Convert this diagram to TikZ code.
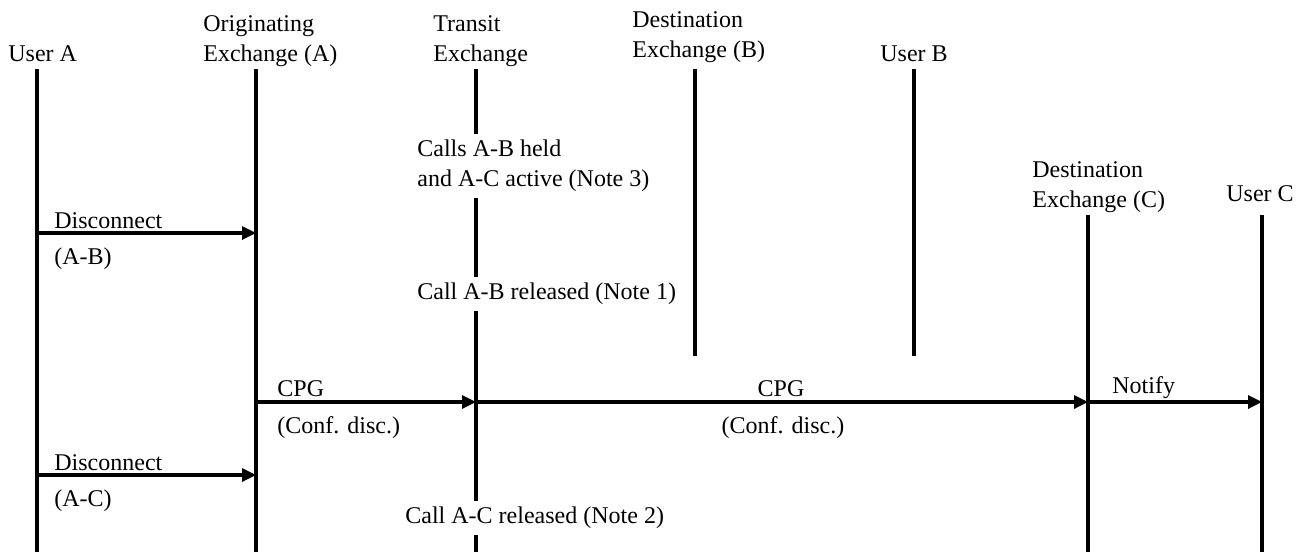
\documentclass[tikz,border=0pt]{standalone}
\usepackage{fontspec}
\setmainfont{Liberation Serif}
\usetikzlibrary{arrows.meta}
\def\life{\draw[line width=1.6pt]}
\def\msg{\draw[line width=1.6pt,-{Triangle[length=7pt,width=6.5pt]}]}

\begin{document}
\begin{tikzpicture}[x=0.5pt,y=-0.5pt,
    every node/.style={font=\fontsize{12}{15}\selectfont,inner sep=0pt},
    lbl/.style={anchor=base west,align=left},
    note/.style={anchor=west,align=left,inner ysep=3pt}]
    \useasboundingbox (0,0) rectangle (1305,552);
    % entities (base = last line)
    \node[lbl] (hua) at (8,61) {User A};
    \node[lbl] (hoa) at (203,61) {Originating\\Exchange (A)};
    \node[lbl] (htr) at (433,61) {Transit\\Exchange};
    \node[lbl] (hdb) at (632,57) {Destination\\Exchange (B)};
    \node[lbl] (hub) at (880,61) {User B};
    \node[lbl] (hdc) at (1032,207) {Destination\\Exchange (C)};
    \node[lbl] (huc) at (1226,201) {User C};
    % lifelines
    \coordinate (ua-t) at (37,69);    \coordinate (ua-b) at (37,552);
    \coordinate (oa-t) at (256,69);   \coordinate (oa-b) at (256,552);
    \coordinate (tr-t) at (476,69);   \coordinate (tr-b) at (476,552);
    \coordinate (db-t) at (695,69);   \coordinate (db-b) at (695,356);
    \coordinate (ub-t) at (914,69);   \coordinate (ub-b) at (914,356);
    \coordinate (dc-t) at (1088,215); \coordinate (dc-b) at (1088,552);
    \coordinate (uc-t) at (1262,215); \coordinate (uc-b) at (1262,552);
    \life (ua-t) -- (ua-b);
    \life (oa-t) -- (oa-b);
    \life (db-t) -- (db-b);
    \life (ub-t) -- (ub-b);
    \life (dc-t) -- (dc-b);
    \life (uc-t) -- (uc-b);
    % notes on the transit exchange
    \node[note] (n3) at (417,166) {Calls A-B held\\and A-C active (Note 3)};
    \node[note] (n1) at (417,294) {Call A-B released (Note 1)};
    \node[note] (n2) at (405,518) {Call A-C released (Note 2)};
    \life (tr-t) -- (n3.north -| tr-t);
    \life (n3.south -| tr-t) -- (n1.north -| tr-t);
    \life (n1.south -| tr-t) -- (n2.north -| tr-t);
    \life (n2.south -| tr-t) -- (tr-b);
    % messages
    \coordinate (d1) at (37,233);   \coordinate (d1e) at (256,233);
    \coordinate (c1) at (256,402);  \coordinate (c1e) at (476,402);
    \coordinate (c2e) at (1088,402); \coordinate (nte) at (1262,402);
    \coordinate (d2) at (37,475);   \coordinate (d2e) at (256,475);
    \msg (d1) -- (d1e);
    \msg (c1) -- (c1e);
    \msg (c1e) -- (c2e);
    \msg (c2e) -- (nte);
    \msg (d2) -- (d2e);
    \node[lbl] (d1t) at (54,228) {Disconnect};
    \node[lbl] (d1s) at (54,264) {(A-B)};
    \node[lbl] (c1t) at (277,396) {CPG};
    \node[lbl] (c1s) at (277,433) {(Conf. disc.)};
    \node[anchor=base] (c2t) at (781,396) {CPG};
    \node[anchor=base] (c2s) at (783,433) {(Conf. disc.)};
    \node[lbl] (ntt) at (1112,393) {Notify};
    \node[lbl] (d2t) at (54,470) {Disconnect};
    \node[lbl] (d2s) at (54,506) {(A-C)};
\end{tikzpicture}
\end{document}
